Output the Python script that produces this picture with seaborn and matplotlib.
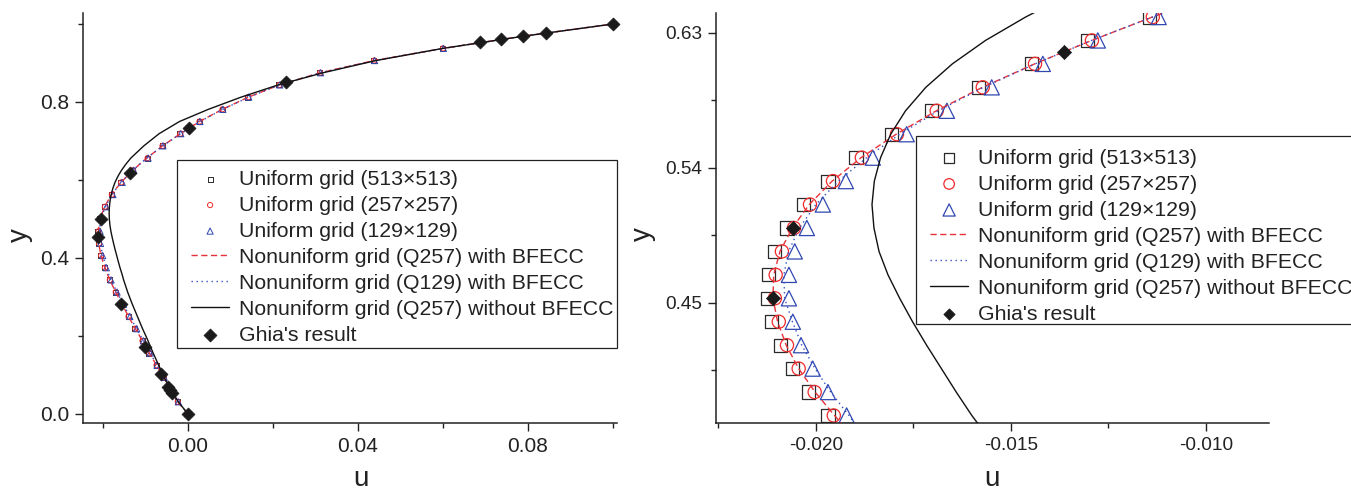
import numpy as np
import matplotlib
matplotlib.use("Agg")
import matplotlib.pyplot as plt
from matplotlib.patches import Rectangle
from matplotlib.ticker import FixedLocator, FixedFormatter
import seaborn as sns

# ---------------- data ----------------
# uniform-grid samples shown on the full profile (every 1/32 in y)
y_full = [0.0, 0.03125, 0.0625, 0.09375, 0.125, 0.15625, 0.1875, 0.21875, 0.25,
          0.28125, 0.3125, 0.34375, 0.375, 0.40625, 0.4375, 0.46875, 0.5, 0.53125,
          0.5625, 0.59375, 0.625, 0.65625, 0.6875, 0.71875, 0.75, 0.78125, 0.8125,
          0.84375, 0.875, 0.90625, 0.9375, 0.96875, 1.0]
u513_full = [0, -0.0024, -0.0041, -0.0058, -0.0075, -0.0092, -0.0108, -0.0125, -0.0141,
             -0.0156, -0.0171, -0.0185, -0.01969, -0.02059, -0.02113, -0.02121, -0.02074,
             -0.01969, -0.01805, -0.01582, -0.01303, -0.0096, -0.0061, -0.0019, 0.0026,
             0.0080, 0.0141, 0.0214, 0.0310, 0.0437, 0.0599, 0.0787, 0.1]
u257_full = [0, -0.0024, -0.0041, -0.0057, -0.0074, -0.0091, -0.0107, -0.0124, -0.0140,
             -0.0155, -0.0170, -0.0184, -0.01954, -0.02044, -0.02095, -0.02103, -0.02056,
             -0.01956, -0.01792, -0.01572, -0.01292, -0.0095, -0.0060, -0.0018, 0.0027,
             0.0081, 0.0142, 0.0215, 0.0311, 0.0438, 0.0600, 0.0788, 0.1]
u129_full = [0, -0.0023, -0.0040, -0.0056, -0.0073, -0.0089, -0.0105, -0.0121, -0.0137,
             -0.0152, -0.0167, -0.0181, -0.01921, -0.02008, -0.02059, -0.02069, -0.02023,
             -0.01923, -0.01767, -0.01549, -0.01277, -0.0094, -0.0059, -0.0017, 0.0028,
             0.0082, 0.0143, 0.0216, 0.0312, 0.0439, 0.0601, 0.0789, 0.1]

# uniform-grid samples in the close-up window (every 1/64 in y)
y_zoom = [0.375, 0.390625, 0.40625, 0.421875, 0.4375, 0.453125, 0.46875, 0.484375, 0.5,
          0.515625, 0.53125, 0.546875, 0.5625, 0.578125, 0.59375, 0.609375, 0.625, 0.640625]
u513_zoom = [-0.01969, -0.02018, -0.02059, -0.02090, -0.02113, -0.02123, -0.02121, -0.02105,
             -0.02074, -0.02031, -0.01969, -0.01897, -0.01805, -0.01703, -0.01582, -0.01446,
             -0.01303, -0.01144]
u257_zoom = [-0.01954, -0.02003, -0.02044, -0.02074, -0.02095, -0.02105, -0.02103, -0.02087,
             -0.02056, -0.02015, -0.01956, -0.01882, -0.01792, -0.01690, -0.01572, -0.01438,
             -0.01292, -0.01136]
u129_zoom = [-0.01921, -0.01969, -0.02008, -0.02038, -0.02059, -0.02069, -0.02069, -0.02054,
             -0.02023, -0.01982, -0.01923, -0.01854, -0.01767, -0.01664, -0.01549, -0.01418,
             -0.01277, -0.01121]

# nonuniform-grid profiles (curves)
y_curve = [0.0, 0.03125, 0.0625, 0.09375, 0.125, 0.15625, 0.1875, 0.21875, 0.25, 0.28125,
           0.3125, 0.34375, 0.359375, 0.375, 0.390625, 0.40625, 0.421875, 0.4375, 0.453125,
           0.46875, 0.484375, 0.5, 0.515625, 0.53125, 0.546875, 0.5625, 0.578125, 0.59375,
           0.609375, 0.625, 0.640625, 0.65625, 0.6875, 0.71875, 0.75, 0.78125, 0.8125,
           0.84375, 0.875, 0.90625, 0.9375, 0.96875, 1.0]
u_q257_bfecc = [0, -0.0024, -0.0041, -0.0057, -0.0074, -0.0091, -0.0107, -0.0124, -0.0140,
                -0.0155, -0.0170, -0.0184, -0.01900, -0.01952, -0.02002, -0.02044, -0.02076,
                -0.02098, -0.02110, -0.02108, -0.02092, -0.02060, -0.02017, -0.01958, -0.01884,
                -0.01794, -0.01691, -0.01573, -0.01439, -0.01293, -0.01137, -0.00970, -0.0060,
                -0.0018, 0.0027, 0.0081, 0.0142, 0.0215, 0.0311, 0.0438, 0.0600, 0.0788, 0.1]
u_q129_bfecc = [0, -0.0023, -0.0040, -0.0056, -0.0073, -0.0089, -0.0105, -0.0121, -0.0137,
                -0.0152, -0.0167, -0.0182, -0.01872, -0.01915, -0.01962, -0.02002, -0.02036,
                -0.02060, -0.02080, -0.02082, -0.02070, -0.02042, -0.02000, -0.01942, -0.01870,
                -0.01785, -0.01686, -0.01570, -0.01438, -0.01293, -0.01137, -0.00970, -0.0059,
                -0.0017, 0.0028, 0.0082, 0.0143, 0.0216, 0.0312, 0.0439, 0.0601, 0.0789, 0.1]
u_q257_plain = [0, -0.0023, -0.0041, -0.0056, -0.0069, -0.0082, -0.0094, -0.0107, -0.0119,
                -0.0131, -0.0142, -0.01515, -0.01555, -0.01600, -0.01640, -0.01678, -0.01716,
                -0.01752, -0.01785, -0.01815, -0.01838, -0.01851, -0.01856, -0.01850, -0.01834,
                -0.01808, -0.01770, -0.01718, -0.01650, -0.01565, -0.01462, -0.01345, -0.0104,
                -0.0068, -0.0020, 0.0048, 0.0125, 0.0212, 0.0318, 0.0442, 0.0600, 0.0790, 0.1]

# Ghia et al. benchmark
ghia_y = [0.0, 0.0547, 0.0625, 0.0703, 0.1016, 0.1719, 0.2813, 0.4531, 0.5, 0.6172,
          0.7344, 0.8516, 0.9531, 0.9609, 0.9688, 0.9766, 1.0]
ghia_u = [0, -0.003717, -0.004192, -0.004775, -0.006434, -0.01015, -0.015662, -0.02109,
          -0.020581, -0.013641, 0.000332, 0.023151, 0.068717, 0.073722, 0.078871, 0.084123, 0.1]

labels = ["Uniform grid (513\u00d7513)", "Uniform grid (257\u00d7257)",
          "Uniform grid (129\u00d7129)", "Nonuniform grid (Q257) with BFECC",
          "Nonuniform grid (Q129) with BFECC", "Nonuniform grid (Q257) without BFECC",
          "Ghia's result"]

left_xticks = [0.0, 0.04, 0.08]
left_xticklabels = ["0.00", "0.04", "0.08"]
left_xminor = [-0.02, 0.02, 0.06, 0.10]
left_yticks = [0.0, 0.4, 0.8]
left_yticklabels = ["0.0", "0.4", "0.8"]
left_yminor = [0.2, 0.6, 1.0]

right_xticks = [-0.020, -0.015, -0.010]
right_xticklabels = ["-0.020", "-0.015", "-0.010"]
right_xminor = [-0.0225, -0.0175, -0.0125]
right_yticks = [0.45, 0.54, 0.63]
right_yticklabels = ["0.45", "0.54", "0.63"]
right_yminor = [0.405, 0.495, 0.585]

# ---------------- style ----------------
sns.set_theme(style="ticks")
plt.rcParams["font.family"] = ["Liberation Sans", "DejaVu Sans"]
plt.rcParams["axes.unicode_minus"] = False

C_SQ = "#2a2a2a"
C_CI = "#f02a2a"
C_TR = "#3048b0"
C_RED = "#e8323a"
C_BLUE = "#3650c4"
C_TXT = "#222222"

fig = plt.figure(figsize=(13.51, 4.93), dpi=100)
ax_l = fig.add_axes([83 / 1351, 70 / 493, 534 / 1351, 410 / 493])
ax_r = fig.add_axes([716 / 1351, 70 / 493, 553 / 1351, 410 / 493])


def draw_panel(ax, ys, u513, u257, u129, msz, clip):
    sq_s, ci_s, tr_s, gh_s, lw_m = msz
    sns.scatterplot(x=u513, y=ys, ax=ax, marker="s", s=sq_s, facecolor="none",
                    edgecolor=C_SQ, linewidth=lw_m, label=labels[0], zorder=2)
    sns.scatterplot(x=u257, y=ys, ax=ax, marker="o", s=ci_s, facecolor="none",
                    edgecolor=C_CI, linewidth=lw_m, label=labels[1], zorder=2)
    sns.scatterplot(x=u129, y=ys, ax=ax, marker="^", s=tr_s, facecolor="none",
                    edgecolor=C_TR, linewidth=lw_m, label=labels[2], zorder=2)
    sns.lineplot(x=u_q257_bfecc, y=y_curve, ax=ax, sort=False, estimator=None,
                 color=C_RED, lw=1.0, linestyle=(0, (4.5, 2.5)), label=labels[3], zorder=3)
    sns.lineplot(x=u_q129_bfecc, y=y_curve, ax=ax, sort=False, estimator=None,
                 color=C_BLUE, lw=1.0, linestyle=(0, (1.0, 2.6)), label=labels[4], zorder=3)
    sns.lineplot(x=u_q257_plain, y=y_curve, ax=ax, sort=False, estimator=None,
                 color="#111111", lw=1.0, linestyle="-", label=labels[5], zorder=3)
    sns.scatterplot(x=ghia_u, y=ghia_y, ax=ax, marker="D", s=gh_s, color="#1a1a1a",
                    edgecolor="#1a1a1a", linewidth=0.5, label=labels[6], zorder=4,
                    clip_on=clip)


draw_panel(ax_l, y_full, u513_full, u257_full, u129_full, (13, 14, 20, 44, 0.7), False)
draw_panel(ax_r, y_zoom, u513_zoom, u257_zoom, u129_zoom, (90, 90, 120, 52, 0.9), True)

ax_l.set_xlim(-0.02471, 0.10094)
ax_l.set_ylim(-0.0231, 1.0282)
ax_r.set_xlim(-0.02256, -0.00838)
ax_r.set_ylim(0.370, 0.6433)


def style_axes(ax, xt, xtl, xm, yt, ytl, ym, lsize):
    sns.despine(ax=ax)
    for side in ("left", "bottom"):
        ax.spines[side].set_linewidth(1.1)
        ax.spines[side].set_color(C_TXT)
    ax.xaxis.set_major_locator(FixedLocator(xt))
    ax.xaxis.set_major_formatter(FixedFormatter(xtl))
    ax.xaxis.set_minor_locator(FixedLocator(xm))
    ax.yaxis.set_major_locator(FixedLocator(yt))
    ax.yaxis.set_major_formatter(FixedFormatter(ytl))
    ax.yaxis.set_minor_locator(FixedLocator(ym))
    ax.tick_params(which="major", direction="out", length=6, width=1.0,
                   color=C_TXT, labelsize=lsize, pad=4, labelcolor=C_TXT)
    ax.tick_params(which="minor", direction="out", length=3.5, width=1.0, color=C_TXT)
    ax.set_xlabel("u", fontsize=20, color=C_TXT)
    ax.set_ylabel("y", fontsize=20, color=C_TXT)


style_axes(ax_l, left_xticks, left_xticklabels, left_xminor,
           left_yticks, left_yticklabels, left_yminor, 15)
style_axes(ax_r, right_xticks, right_xticklabels, right_xminor,
           right_yticks, right_yticklabels, right_yminor, 13.7)

ax_l.xaxis.set_label_coords(0.52, -0.104)
ax_l.yaxis.set_label_coords(-0.093, 0.4585)
ax_r.xaxis.set_label_coords(0.499, -0.104)
ax_r.yaxis.set_label_coords(-0.108, 0.461)


def put_legend(ax, anchor, box, mscale):
    x0, y0, x1, y1 = box
    ax.add_patch(Rectangle((x0, y0), x1 - x0, y1 - y0, transform=ax.transAxes,
                           facecolor="white", edgecolor=C_TXT, linewidth=0.9,
                           zorder=5, clip_on=False))
    h, lab = ax.get_legend_handles_labels()
    order = [lab.index(t) for t in labels]
    leg = ax.legend([h[i] for i in order], [lab[i] for i in order],
                    loc="upper left", bbox_to_anchor=anchor, fontsize=15.3,
                    frameon=False, borderpad=0, labelspacing=0.33,
                    handlelength=1.8, handletextpad=0.45, borderaxespad=0,
                    scatterpoints=1, markerscale=mscale)
    leg.set_zorder(6)
    for t in leg.get_texts():
        t.set_color(C_TXT)
    return leg


put_legend(ax_l, (0.2022, 0.618), (0.176, 0.183, 1.0, 0.6415), 1.0)
put_legend(ax_r, (0.387, 0.6695), (0.3617, 0.2415, 1.165, 0.70), 0.8)

fig.savefig("out.png", dpi=100)
